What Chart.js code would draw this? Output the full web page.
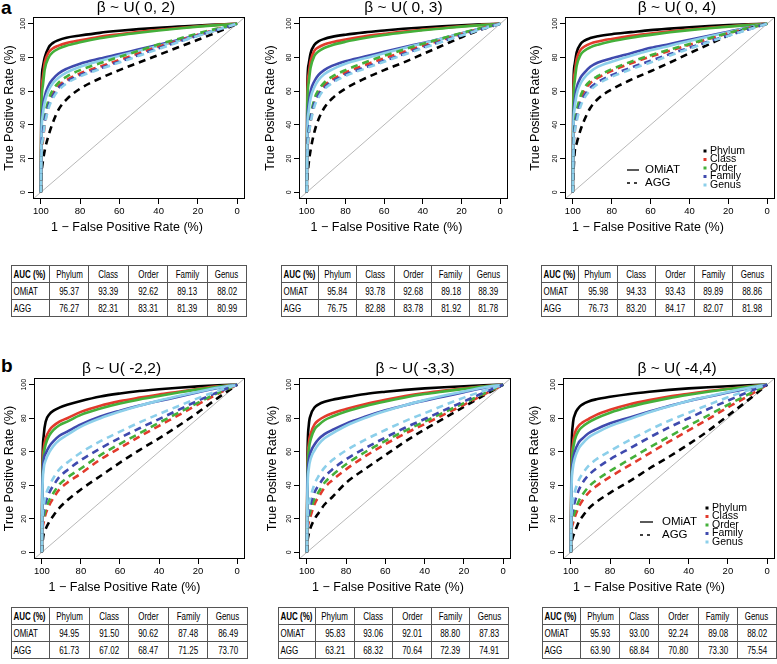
<!DOCTYPE html>
<html>
<head>
<meta charset="utf-8">
<script src="https://cdn.jsdelivr.net/npm/chart.js@4.4.1/dist/chart.umd.min.js"></script>
<style>
  body { margin: 0; background: #fff; width: 777px; height: 664px; position: relative; overflow: hidden; }
  canvas { position: absolute; }
  .tag { position: absolute; font: bold 19px "Liberation Sans", Arial, sans-serif; line-height: 22px; }
  table.auc { position: absolute; border-collapse: collapse; table-layout: fixed; border: 1.5px solid #222;
    font: 10.5px "Liberation Sans", Arial, sans-serif; color: #000; }
  table.auc td { border: 1px solid #555; text-align: center; padding: 0; height: 16px; white-space: nowrap; overflow: hidden; }
  table.auc td span { display: inline-block; transform: scaleX(0.76); transform-origin: center; }
  table.auc td:first-child span { transform-origin: left center; padding-left: 2px; }
  table.auc td:first-child { text-align: left; }
  table.auc tr:first-child td:first-child { font-weight: bold; }
</style>
</head>
<body>
<div class="tag" style="left:1px;top:-3px">a</div>
<div class="tag" style="left:1px;top:355px">b</div>
<script>
// specificity grid shared by all ROC curves (x axis, reversed)
const spec = [100, 99.7, 99, 98, 96, 94, 91, 87, 80, 70, 60, 50, 40, 30, 20, 10, 0];
const taxa = ['Phylum', 'Class', 'Order', 'Family', 'Genus'];
const titles = ['β ~ U( 0, 2)', 'β ~ U( 0, 3)', 'β ~ U( 0, 4)', 'β ~ U( -2,2)', 'β ~ U( -3,3)', 'β ~ U( -4,4)'];
const axisTicks = [0, 20, 40, 60, 80, 100];
const chanceLine = [-4, 104];

// true positive rate (%) for each taxon, per panel
const a1Omiat = [
  [0, 60, 74, 80, 86, 88.5, 90.3, 91.7, 93, 94.6, 95.8, 96.8, 97.6, 98.3, 99, 99.5, 100],
  [0, 55, 68, 77, 83, 85.3, 87, 88.5, 90.2, 92.3, 93.8, 95.2, 96.4, 97.5, 98.5, 99.3, 100],
  [0, 50, 63, 73, 80, 83, 85.2, 87, 89, 91.4, 93.2, 94.7, 96, 97.2, 98.3, 99.2, 100],
  [0, 36, 50, 57, 63.5, 67, 70.5, 73.2, 76.3, 79.3, 82, 84.8, 87.5, 90.3, 93.3, 96.5, 100],
  [0, 33, 46, 53.5, 60.5, 64.5, 68, 71, 74.5, 78, 81, 84, 86.8, 89.8, 93, 96.4, 100]
];
const a1Agg = [
  [0, 10, 18, 25, 34, 41, 49, 55, 61.5, 67.5, 72.5, 77, 81.5, 86, 90.5, 95, 100],
  [0, 20, 30, 40, 52, 58, 63, 66.5, 70.5, 74.5, 78.5, 82.5, 86.5, 90, 93.5, 96.8, 100],
  [0, 22, 33, 44, 55, 60.5, 65, 68.5, 72.5, 76.5, 80.3, 84, 87.8, 91, 94.2, 97.2, 100],
  [0, 25, 35, 43, 52, 57, 62, 65.5, 69.5, 73.5, 77.5, 81.5, 85.5, 89.3, 93, 96.5, 100],
  [0, 22, 32, 40, 50, 55.5, 60.5, 64.5, 68.8, 73, 77, 81, 85, 89, 92.8, 96.5, 100]
];
const a2Omiat = [
  [0, 62, 76, 82.5, 87.5, 89.5, 91, 92.2, 93.5, 94.9, 96, 97, 97.8, 98.5, 99.1, 99.6, 100],
  [0, 56, 70, 78, 84, 86, 87.7, 89, 90.6, 92.5, 94, 95.4, 96.5, 97.5, 98.5, 99.3, 100],
  [0, 51, 65, 74, 81, 83.5, 85.6, 87.3, 89.3, 91.5, 93.3, 94.8, 96.1, 97.2, 98.3, 99.2, 100],
  [0, 38, 52, 60, 66, 69.5, 72.5, 75, 77.8, 80.5, 83.3, 86, 88.6, 91.3, 94.3, 97.2, 100],
  [0, 35, 48, 56, 62.5, 66.5, 70, 72.8, 76.2, 79.5, 82.5, 85.5, 88.3, 91.2, 94.2, 97.2, 100]
];
const a2Agg = [
  [0, 8, 17, 25, 36, 43, 50, 55.5, 61.5, 67.5, 72.5, 77, 82, 87, 92, 96.5, 100],
  [0, 20, 33, 42, 53, 58.5, 63.3, 66.8, 71, 75.5, 79.5, 83.3, 87, 90.5, 94, 97.2, 100],
  [0, 23, 36, 45, 55.5, 60.5, 65, 68.5, 72.5, 77, 81, 84.6, 88.1, 91.3, 94.5, 97.4, 100],
  [0, 24, 36, 44, 53, 57.5, 62, 65.5, 69.8, 74, 78, 82, 86, 89.6, 93.2, 96.7, 100],
  [0, 21, 33, 41, 51, 56, 61, 64.7, 69, 73.3, 77.5, 81.5, 85.5, 89.3, 93, 96.6, 100]
];
const a3Omiat = [
  [0, 62, 76, 83, 88, 90, 91.5, 92.6, 93.8, 95, 96.2, 97.1, 97.9, 98.6, 99.2, 99.6, 100],
  [0, 57, 71, 79, 84.5, 86.5, 88.2, 89.5, 91, 92.8, 94.2, 95.5, 96.6, 97.6, 98.5, 99.3, 100],
  [0, 52, 66, 75, 81.5, 84, 86, 87.6, 89.6, 91.7, 93.4, 94.9, 96.2, 97.3, 98.3, 99.2, 100],
  [0, 40, 54, 62, 68, 71, 74.5, 77, 79.5, 82.5, 85.7, 88, 90.5, 92.8, 95.3, 97.8, 100],
  [0, 37, 50, 58, 64.5, 68, 71.5, 74.5, 77.5, 81, 84.2, 87, 89.8, 92.4, 95, 97.6, 100]
];
const a3Agg = [
  [0, 10, 24, 29, 37, 43, 50, 55.5, 61, 66.8, 71.8, 77, 82.5, 87.8, 93, 97, 100],
  [0, 22, 36, 45, 55, 60.5, 64.8, 68, 72, 76.5, 80.5, 84, 87.5, 91, 94.3, 97.3, 100],
  [0, 25, 40, 48, 57, 62, 66, 69, 73, 77.5, 81.3, 84.7, 88, 91.3, 94.5, 97.4, 100],
  [0, 25, 38, 45, 53, 57.5, 62, 65.5, 69.5, 74, 78, 82, 85.8, 89.5, 93, 96.5, 100],
  [0, 22, 35, 42, 51, 56, 60.5, 64.3, 68.5, 73, 77, 81.2, 85.2, 89.2, 92.8, 96.4, 100]
];
const b1Omiat = [
  [0, 50, 70, 78, 82.5, 84.5, 86.3, 88, 90.3, 93, 94.8, 96.2, 97.3, 98.2, 99, 99.6, 100],
  [0, 45, 62, 68, 73, 75.5, 78, 80, 83.8, 87.5, 90.2, 92.3, 94.2, 95.8, 97.5, 99, 100],
  [0, 42, 58, 64.5, 70, 73, 75.8, 78, 82, 85.8, 88.8, 91.2, 93.3, 95.3, 97.2, 98.8, 100],
  [0, 38, 55, 59, 63.5, 66.3, 69.5, 72, 76.3, 81, 84.5, 87.6, 90.3, 92.8, 95.5, 98, 100],
  [0, 35, 50, 55, 60, 63.5, 67, 70, 75, 80, 84, 87.5, 90.5, 93.2, 95.8, 98.2, 100]
];
const b1Agg = [
  [0, 5, 11, 14, 18.5, 22, 26.5, 31, 37.5, 45.5, 53.5, 61, 68, 75.5, 83.5, 92, 100],
  [0, 12, 18, 23, 28.5, 32.5, 37.5, 41.5, 47, 55.4, 62.3, 69, 75.5, 81.8, 88.3, 94.5, 100],
  [0, 14, 21, 26, 31.5, 35.5, 40.5, 44.5, 50, 58, 64.7, 71, 77.3, 83.3, 89.3, 95, 100],
  [0, 15, 25, 30, 36, 40, 45, 49, 55, 62, 68.3, 74, 79.5, 85, 90.5, 95.5, 100],
  [0, 18, 28, 34, 40, 44.5, 49.5, 53.5, 59.5, 66.3, 72, 77.5, 82.5, 87.3, 92, 96.3, 100]
];
const b2Omiat = [
  [0, 55, 76, 82, 86.5, 88.3, 89.8, 91, 92.6, 94.5, 95.8, 96.9, 97.8, 98.5, 99.1, 99.6, 100],
  [0, 47, 65, 71, 76.5, 78.8, 81, 83, 85.5, 88.5, 91, 93.2, 95, 96.5, 97.8, 99, 100],
  [0, 44, 61, 67.5, 73.5, 76, 78.8, 81, 84, 87.3, 90, 92.4, 94.4, 96, 97.5, 98.9, 100],
  [0, 40, 55, 60, 64.5, 67.5, 70.5, 73, 76.8, 81, 84.7, 87.8, 90.5, 93, 95.5, 98, 100],
  [0, 36, 50, 56, 61, 64.5, 68, 71, 75.5, 80.3, 84.3, 87.8, 90.8, 93.5, 96, 98.3, 100]
];
const b2Agg = [
  [0, 6, 11, 15, 20, 23.5, 28.5, 33, 41.5, 50, 58, 66, 73.3, 80, 86.8, 93.5, 100],
  [0, 12, 18, 22, 29, 33, 38.5, 43, 49.5, 57.5, 64.5, 70.8, 76.5, 82.3, 88, 94, 100],
  [0, 14, 21, 25.5, 32, 36, 41.5, 46, 52.5, 60, 66.5, 72.5, 78, 83.6, 89, 94.6, 100],
  [0, 16, 24, 29, 36, 40, 45, 49.5, 55.5, 62.3, 68.5, 74.3, 79.5, 84.8, 90, 95.2, 100],
  [0, 19, 28, 33.5, 41, 45.5, 50.5, 55, 60.8, 67.3, 73, 78.3, 83, 87.8, 92.3, 96.3, 100]
];
const b3Omiat = [
  [0, 55, 76, 82, 86.3, 88.3, 90, 91.3, 92.8, 94.5, 95.8, 96.9, 97.8, 98.5, 99.1, 99.6, 100],
  [0, 47, 64, 71, 75.5, 77.5, 79.5, 82, 85, 88.3, 90.8, 92.9, 94.6, 96.2, 97.6, 98.9, 100],
  [0, 44, 60, 67, 72.5, 75, 77.5, 80, 83.3, 86.8, 89.6, 92, 94, 95.8, 97.4, 98.8, 100],
  [0, 40, 54, 60, 65.5, 68, 71, 73.5, 77, 80.5, 84, 87.3, 90.3, 92.8, 95.3, 97.8, 100],
  [0, 36, 50, 56, 62, 65, 68.5, 71.3, 75.3, 79.5, 83.5, 87, 90.3, 93, 95.6, 98, 100]
];
const b3Agg = [
  [0, 5, 9, 12, 18, 21.5, 26, 30, 35.5, 42.5, 50, 57, 64.5, 72.5, 81.5, 90.5, 100],
  [0, 12, 17, 21, 27, 31, 35.5, 39.5, 45, 52, 59, 66, 72.8, 79.5, 86.5, 93, 100],
  [0, 14, 20, 24, 30.5, 34.5, 39, 43, 48.5, 55.5, 62.5, 69, 75.5, 81.7, 88, 94, 100],
  [0, 17, 25, 30, 37, 41.5, 46, 50, 55.5, 62, 68.5, 74.5, 80, 85.5, 90.5, 95.5, 100],
  [0, 20, 30, 36, 43, 47, 51.5, 55.5, 60.5, 67, 73, 78.5, 83.3, 88, 92.5, 96.5, 100]
];

// AUC tables
const aucOmiat = [
  [95.37, 93.39, 92.62, 89.13, 88.02],
  [95.84, 93.78, 92.68, 89.18, 88.39],
  [95.98, 94.33, 93.43, 89.89, 88.86],
  [94.95, 91.50, 90.62, 87.48, 86.49],
  [95.83, 93.06, 92.01, 88.80, 87.83],
  [95.93, 93.00, 92.24, 89.08, 88.02]
];
const aucAgg = [
  [76.27, 82.31, 83.31, 81.39, 80.99],
  [76.75, 82.88, 83.78, 81.92, 81.78],
  [76.73, 83.20, 84.17, 82.07, 81.98],
  [61.73, 67.02, 68.47, 71.25, 73.70],
  [63.21, 68.32, 70.64, 72.39, 74.91],
  [63.90, 68.84, 70.80, 73.30, 75.54]
];

const omiatSets = [a1Omiat, a2Omiat, a3Omiat, b1Omiat, b2Omiat, b3Omiat];
const aggSets = [a1Agg, a2Agg, a3Agg, b1Agg, b2Agg, b3Agg];

const colors = ['#000000', '#E23A2C', '#44B03A', '#3F4AAE', '#8CCFEA'];
const FF = '"Liberation Sans", Arial, sans-serif';

// canvas placement and plot area (canvas coords: left, top, right, bottom)
const panels = [
  { left: 0,   top: 0,   w: 258, h: 240, area: [33, 17, 245, 199], yt: 10, tdx: -3,  xdx: -12 },
  { left: 260, top: 0,   w: 258, h: 240, area: [39, 17, 248, 199], yt: 11, tdx: 0,   xdx: -17 },
  { left: 518, top: 0,   w: 259, h: 240, area: [47, 17, 257, 199], yt: 18, tdx: 7,   xdx: -22,
    legend: { line: 148, lineEnd: 136, text: 130, yO: 29, yA: 16, mark: 70, taxText: 65, y0: 48 } },
  { left: 0,   top: 355, w: 258, h: 245, area: [34, 23, 245, 204], yt: 10, tdx: -18, xdx: -15 },
  { left: 260, top: 355, w: 258, h: 245, area: [39, 23, 251, 204], yt: 13, tdx: 10,  xdx: -17 },
  { left: 518, top: 355, w: 259, h: 245, area: [45, 23, 257, 204], yt: 17, tdx: 8,   xdx: -20,
    legend: { line: 135, lineEnd: 122, text: 113, yO: 37, yA: 24, mark: 68, taxText: 63, y0: 51 } }
];
const tables = [
  { left: 11,  top: 265, w: 235 },
  { left: 281, top: 265, w: 226 },
  { left: 541, top: 265, w: 230 },
  { left: 11,  top: 607, w: 236 },
  { left: 278, top: 607, w: 230 },
  { left: 542, top: 607, w: 234 }
];

const decor = {
  id: 'decor',
  afterDraw(chart, args, o) {
    const c = chart.ctx, a = chart.chartArea;
    const cx = (a.left + a.right) / 2;
    c.save();
    c.strokeStyle = '#000';
    c.lineWidth = 1;
    c.setLineDash([]);
    c.strokeRect(Math.round(a.left) + 0.5, Math.round(a.top) + 0.5,
      Math.round(a.right - a.left) - 1, Math.round(a.bottom - a.top) - 1);
    c.fillStyle = '#000';
    c.textAlign = 'center';
    c.textBaseline = 'middle';
    c.font = '15.5px ' + FF;
    c.fillText(o.title, cx + o.tdx, a.top - 9);
    c.font = '12.5px ' + FF;
    c.fillText('1 − False Positive Rate (%)', cx + o.xdx, a.bottom + 29);
    c.save();
    c.translate(o.yt, (a.top + a.bottom) / 2);
    c.rotate(-Math.PI / 2);
    c.fillText('True Positive Rate (%)', 0, 0);
    c.restore();
    const ys = chart.scales.y;
    c.font = '7px ' + FF;
    ys.ticks.forEach(t => {
      c.save();
      c.translate(a.left - 10, ys.getPixelForValue(t.value));
      c.rotate(-Math.PI / 2);
      c.fillText(String(t.value), 0, 0);
      c.restore();
    });
    const L = o.legend;
    if (L) {
      c.textAlign = 'left';
      c.font = '10.5px ' + FF;
      taxa.forEach((name, k) => {
        const y = a.bottom - L.y0 + k * 8.5;
        c.fillStyle = colors[k];
        c.fillRect(a.right - L.mark - 1.5, y - 1.5, 3, 3);
        c.fillStyle = '#000';
        c.fillText(name, a.right - L.taxText, y);
      });
      c.font = '11.5px ' + FF;
      c.strokeStyle = '#000';
      c.lineWidth = 1.3;
      c.beginPath();
      c.moveTo(a.right - L.line, a.bottom - L.yO);
      c.lineTo(a.right - L.lineEnd, a.bottom - L.yO);
      c.stroke();
      c.setLineDash([3, 4]);
      c.beginPath();
      c.moveTo(a.right - L.line, a.bottom - L.yA);
      c.lineTo(a.right - L.lineEnd, a.bottom - L.yA);
      c.stroke();
      c.setLineDash([]);
      c.fillText('OMiAT', a.right - L.text, a.bottom - L.yO);
      c.fillText('AGG', a.right - L.text, a.bottom - L.yA);
    }
    c.restore();
  }
};

function curve(vals, color, dash) {
  return {
    data: spec.map((s, j) => ({ x: s, y: vals[j] })),
    showLine: true,
    borderColor: color,
    borderWidth: 2.6,
    borderDash: dash,
    borderCapStyle: 'butt',
    pointRadius: 0,
    cubicInterpolationMode: 'monotone',
    fill: false
  };
}

function axis(fitter, showLabels) {
  return {
    type: 'linear',
    min: chanceLine[0],
    max: chanceLine[1],
    afterBuildTicks: s => { s.ticks = axisTicks.map(v => ({ value: v })); },
    afterFit: fitter,
    grid: { display: true, drawOnChartArea: false, drawTicks: true, tickLength: 5, color: '#000', lineWidth: 1 },
    border: { display: false },
    ticks: {
      display: true,
      autoSkip: false,
      maxRotation: 0,
      padding: 2,
      color: '#000',
      font: { size: 9.5, family: FF },
      callback: v => showLabels ? String(v) : ''
    }
  };
}

panels.forEach((p, i) => {
  const cv = document.createElement('canvas');
  cv.width = p.w;
  cv.height = p.h;
  cv.style.left = p.left + 'px';
  cv.style.top = p.top + 'px';
  document.body.appendChild(cv);

  const datasets = [];
  omiatSets[i].forEach((vals, k) => datasets.push(curve(vals, colors[k], [])));
  aggSets[i].forEach((vals, k) => datasets.push(curve(vals, colors[k], [7, 5])));
  datasets.reverse();
  datasets.push({
    data: [{ x: chanceLine[1], y: chanceLine[0] }, { x: chanceLine[0], y: chanceLine[1] }],
    showLine: true, borderColor: '#b8b8b8', borderWidth: 1, pointRadius: 0
  });

  const xAxis = axis(s => { s.height = p.h - p.area[3]; }, true);
  xAxis.reverse = true;
  const yAxis = axis(s => { s.width = p.area[0]; }, false);

  new Chart(cv, {
    type: 'scatter',
    data: { datasets },
    options: {
      responsive: false,
      animation: false,
      devicePixelRatio: 1,
      layout: { padding: { top: p.area[1], right: p.w - p.area[2], left: 0, bottom: 0 } },
      plugins: {
        legend: { display: false },
        tooltip: { enabled: false },
        decor: { title: titles[i], yt: p.yt, tdx: p.tdx, xdx: p.xdx, legend: p.legend }
      },
      scales: { x: xAxis, y: yAxis }
    },
    plugins: [decor]
  });
});

tables.forEach((t, i) => {
  const tb = document.createElement('table');
  tb.className = 'auc';
  tb.style.left = t.left + 'px';
  tb.style.top = t.top + 'px';
  tb.style.width = t.w + 'px';
  const first = Math.round(t.w * 0.162);
  const rest = (t.w - first) / 5;
  let html = '<colgroup><col style="width:' + first + 'px">';
  for (let k = 0; k < 5; k++) html += '<col style="width:' + rest + 'px">';
  html += '</colgroup>';
  const rows = [
    ['AUC (%)'].concat(taxa),
    ['OMiAT'].concat(aucOmiat[i].map(v => v.toFixed(2))),
    ['AGG'].concat(aucAgg[i].map(v => v.toFixed(2)))
  ];
  rows.forEach(r => { html += '<tr>' + r.map(v => '<td><span>' + v + '</span></td>').join('') + '</tr>'; });
  tb.innerHTML = html;
  document.body.appendChild(tb);
});
</script>
</body>
</html>
